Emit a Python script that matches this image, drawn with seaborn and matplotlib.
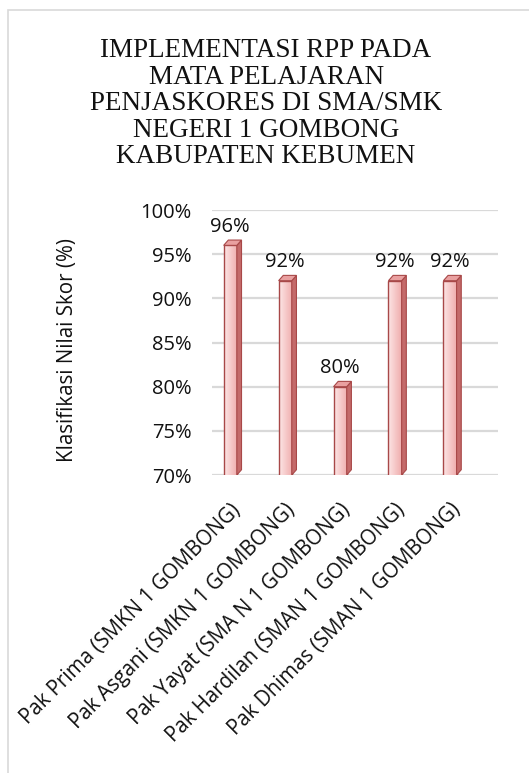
import numpy as np
import pandas as pd
import matplotlib
matplotlib.use('Agg')
import matplotlib.pyplot as plt
import matplotlib.transforms as mtransforms
from matplotlib.patches import Rectangle, Polygon
import seaborn as sns

# data
guru = ['Pak Prima (SMKN 1 GOMBONG)', 'Pak Asgani (SMKN 1 GOMBONG)',
        'Pak Yayat (SMA N 1 GOMBONG)', 'Pak Hardilan (SMAN 1 GOMBONG)',
        'Pak Dhimas (SMAN 1 GOMBONG)']
skor = [96, 92, 80, 92, 92]
yticks = [70, 75, 80, 85, 90, 95, 100]

df = pd.DataFrame({'Guru': guru, 'Skor': skor})

sns.set_style('white')
plt.rcParams['font.family'] = ['Open Sans', 'DejaVu Sans']

fig = plt.figure(figsize=(5.29, 7.73), dpi=100)
fig.patches.append(Rectangle((0.015, -0.02), 1.0, 1.007, transform=fig.transFigure,
                             fill=False, edgecolor='#d9d9d9', linewidth=1.2))

ax = fig.add_axes([0.401, 0.3855, 0.540, 0.3428])
sns.barplot(data=df, x='Guru', y='Skor', color='#f4bcbc', edgecolor='#a84848',
            linewidth=1.0, width=0.24, ax=ax, zorder=3)

ax.set_ylim(70, 100)
ax.set_xlim(-0.33, 4.87)
ax.set_yticks(yticks)
ax.set_yticklabels([f'{v}%' for v in yticks], fontsize=14.5, color='#111111')
for y in yticks:
    ax.axhline(y, color='#d9d9d9', linewidth=1.6, zorder=1)
for s in ax.spines.values():
    s.set_visible(False)
ax.tick_params(axis='y', length=0, pad=15)
ax.tick_params(axis='x', length=0, pad=23)

# gradient + 3d side for each bar
grad = np.linspace(0, 1, 64).reshape(1, -1)
cmap = matplotlib.colors.LinearSegmentedColormap.from_list('g', ['#fde6e6', '#efacac'])
for p in ax.patches:
    x0, w, h = p.get_x(), p.get_width(), p.get_height()
    im = ax.imshow(grad, cmap=cmap, aspect='auto', extent=(x0, x0 + w, 70, h),
                   zorder=3.5)
    im.set_clip_path(p)
    d = 0.085
    side = Polygon([(x0 + w, 70), (x0 + w + d, 70.6), (x0 + w + d, h + 0.6), (x0 + w, h)],
                   closed=True, facecolor='#c46a6a', edgecolor='#a84848', linewidth=0.8,
                   zorder=4)
    ax.add_patch(side)
    top = Polygon([(x0, h), (x0 + d, h + 0.6), (x0 + w + d, h + 0.6), (x0 + w, h)],
                  closed=True, facecolor='#e9a0a0', edgecolor='#a84848', linewidth=0.8,
                  zorder=4)
    ax.add_patch(top)
    p.set_zorder(4)
    p.set_facecolor('none')

lbls = ax.bar_label(ax.containers[0], labels=[f'{v}%' for v in skor], fontsize=14.5,
                    padding=6, color='#111111')
# first label sits a little to the left in the original
lbls[0].set_transform(lbls[0].get_transform() +
                      mtransforms.ScaledTranslation(-0.08, 0, fig.dpi_scale_trans))

ax.set_xlabel('')
ax.set_ylabel('')
offset = mtransforms.ScaledTranslation(0.07, 0, fig.dpi_scale_trans)
for lab in ax.get_xticklabels():
    lab.set_rotation(45)
    lab.set_ha('right')
    lab.set_va('center')
    lab.set_rotation_mode('anchor')
    lab.set_fontsize(14.8)
    lab.set_color('#111111')
    lab.set_transform(lab.get_transform() + offset)

fig.text(0.128, 0.547, 'Klasifikasi Nilai Skor (%)', rotation=90, ha='center',
         va='center', fontsize=14.8, color='#111111')

fig.text(0.503, 0.866, 'IMPLEMENTASI RPP PADA\nMATA PELAJARAN\nPENJASKORES DI SMA/SMK\n'
         'NEGERI 1 GOMBONG\nKABUPATEN KEBUMEN', ha='center', va='center',
         fontsize=19.5, family='Liberation Serif', linespacing=1.08, color='#111111')

fig.savefig('out.png', dpi=100)
